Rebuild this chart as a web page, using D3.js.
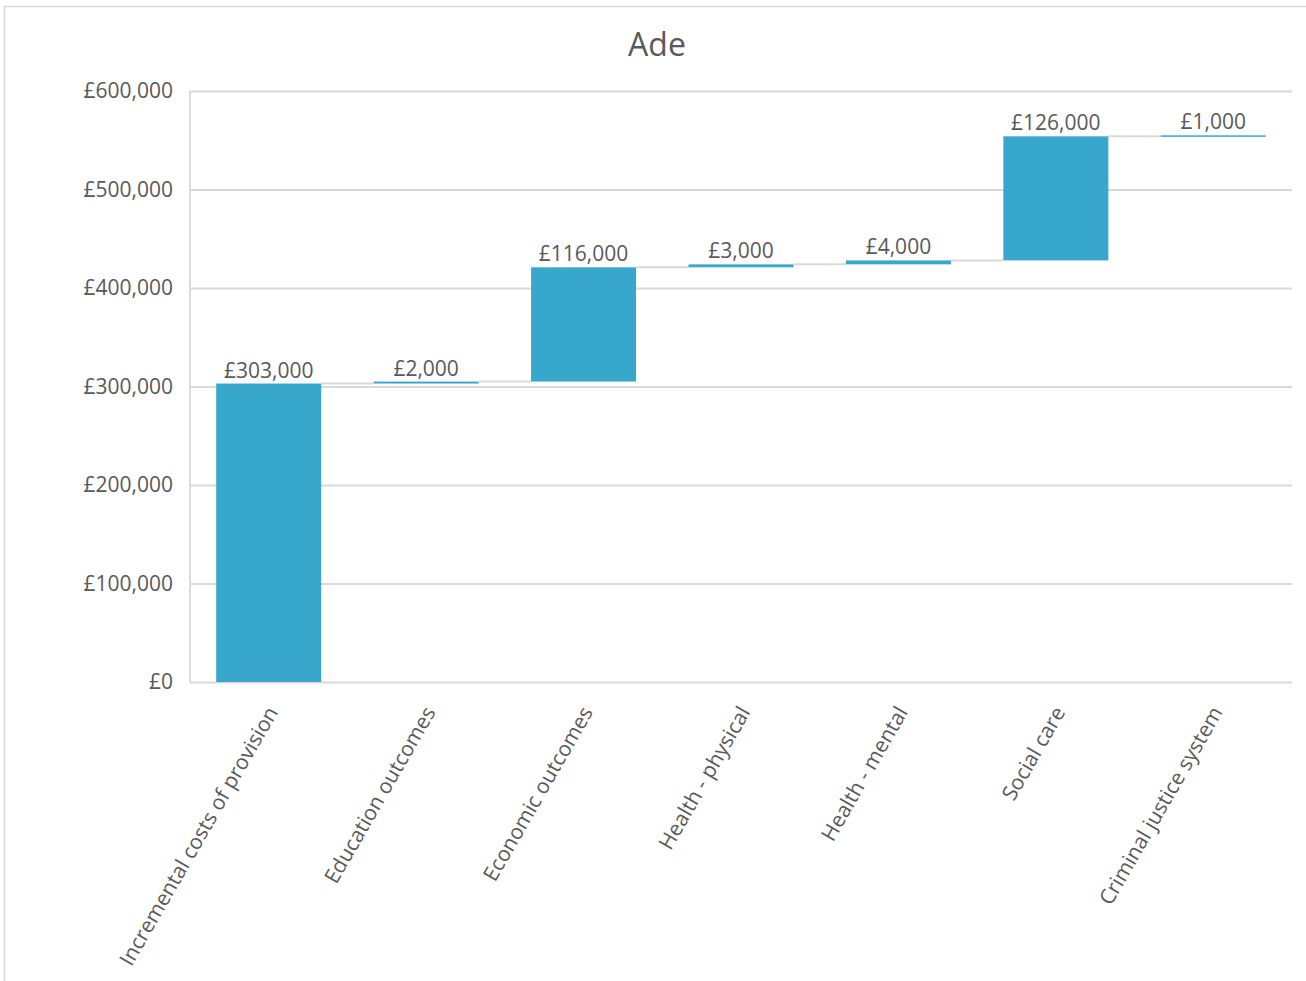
<!DOCTYPE html>
<html>
<head>
<meta charset="utf-8">
<script src="https://cdn.jsdelivr.net/npm/d3@7"></script>
<style>
  html, body { margin: 0; padding: 0; background: #fff; }
  svg { display: block; font-family: "Open Sans", "Noto Sans", sans-serif; }
</style>
</head>
<body>
<svg id="chart" width="1306" height="981"></svg>
<script>
// Waterfall of incremental costs and savings for "Ade"
const categories = [
  "Incremental costs of provision",
  "Education outcomes",
  "Economic outcomes",
  "Health - physical",
  "Health - mental",
  "Social care",
  "Criminal justice system"
];
const values = [303000, 2000, 116000, 3000, 4000, 126000, 1000];
const yTicks = [0, 100000, 200000, 300000, 400000, 500000, 600000];
const titleText = "Ade";

const svg = d3.select("#chart");
const W = 1306, H = 981;
const margin = { left: 190, right: 14, top: 91, bottom: 299 };
const plotW = W - margin.left - margin.right;
const plotH = H - margin.top - margin.bottom;

const textColor = "#595959";
const gridColor = "#d9d9d9";
const barColor = "#38a7cc";

// Outer chart frame (top and left edges visible)
svg.append("rect")
  .attr("x", 4.5).attr("y", 6.5)
  .attr("width", W + 20).attr("height", H + 20)
  .attr("fill", "none").attr("stroke", "#d9d9d9").attr("stroke-width", 1.5);

// Running totals for waterfall steps
let run = 0;
const steps = values.map((v, i) => {
  const start = run;
  run += v;
  return { cat: categories[i], value: v, start, end: run };
});

const x = d3.scaleBand().domain(categories)
  .range([margin.left, margin.left + plotW]).paddingInner(0.333).paddingOuter(0.1665);
const y = d3.scaleLinear().domain([0, 600000]).range([margin.top + plotH, margin.top]);

const fmt = v => "£" + d3.format(",")(v);

// Gridlines
svg.append("g")
  .attr("transform", `translate(${margin.left},0)`)
  .call(d3.axisLeft(y).tickValues(yTicks).tickSize(-plotW).tickFormat(""))
  .call(g => g.select(".domain").remove())
  .call(g => g.selectAll("line").attr("stroke", gridColor).attr("stroke-width", 1.8));

// Y axis line
svg.append("line")
  .attr("x1", margin.left).attr("x2", margin.left)
  .attr("y1", y(600000)).attr("y2", y(0))
  .attr("stroke", gridColor).attr("stroke-width", 1.8);

// Y tick labels
svg.append("g")
  .attr("transform", `translate(${margin.left},0)`)
  .call(d3.axisLeft(y).tickValues(yTicks).tickSize(0).tickPadding(17).tickFormat(fmt))
  .call(g => g.select(".domain").remove())
  .call(g => g.selectAll("text")
    .attr("fill", textColor).style("font-size", "21px")
    .style("font-family", "'Open Sans', sans-serif"));

// Connector lines between consecutive steps
svg.append("g").selectAll("line")
  .data(steps.slice(0, -1))
  .join("line")
  .attr("x1", (d) => x(d.cat) + x.bandwidth())
  .attr("x2", (d, i) => x(categories[i + 1]))
  .attr("y1", d => y(d.end)).attr("y2", d => y(d.end))
  .attr("stroke", gridColor).attr("stroke-width", 2);

// Bars
svg.append("g").selectAll("rect")
  .data(steps)
  .join("rect")
  .attr("x", d => x(d.cat))
  .attr("width", x.bandwidth())
  .attr("y", d => y(d.end))
  .attr("height", d => Math.max(1.5, y(d.start) - y(d.end)))
  .attr("fill", barColor);

// Value labels
svg.append("g").selectAll("text")
  .data(steps)
  .join("text")
  .attr("x", d => x(d.cat) + x.bandwidth() / 2)
  .attr("y", d => y(d.end) - 6)
  .attr("text-anchor", "middle")
  .attr("fill", textColor)
  .style("font-size", "21px")
  .text(d => fmt(d.value));

// Category labels, rotated
svg.append("g").selectAll("text")
  .data(categories)
  .join("text")
  .attr("transform", d => `translate(${x(d) + x.bandwidth() / 2 + 10},${y(0) + 30}) rotate(-60)`)
  .attr("text-anchor", "end")
  .attr("fill", textColor)
  .style("font-size", "21px")
  .text(d => d);

// Title
svg.append("text")
  .attr("x", 657).attr("y", 56)
  .attr("text-anchor", "middle")
  .attr("fill", textColor)
  .style("font-size", "32px")
  .text(titleText);
</script>
</body>
</html>
